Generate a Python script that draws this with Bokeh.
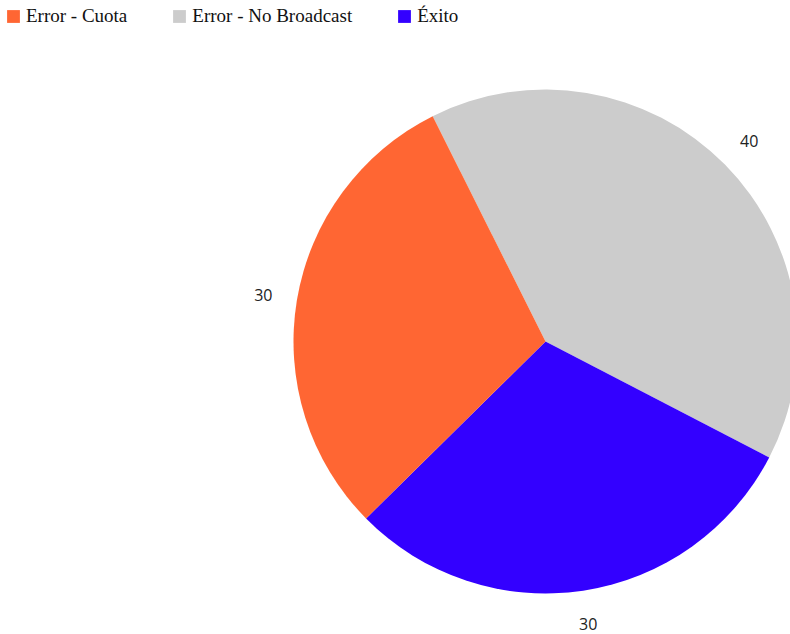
import numpy as np
from bokeh.plotting import figure
from bokeh.models import Range1d, Legend, LegendItem, ColumnDataSource
from bokeh.core.properties import value
from bokeh.embed import file_html
from bokeh.resources import INLINE

categories = ["Error - Cuota", "Error - No Broadcast", "Éxito"]
values = [30, 40, 30]
colors = ["#FF6633", "#CCCCCC", "#3300FF"]

# drawing order (clockwise from start)
order = [1, 2, 0]

W, H = 790, 634
p = figure(width=W, height=H, output_backend="svg", toolbar_location=None,
           x_range=Range1d(0, W), y_range=Range1d(0, H), min_border=0)
p.axis.visible = False
p.grid.visible = False
p.outline_line_color = None
p.background_fill_color = "white"
p.border_fill_color = "white"

cx, cy, r = 545, 293, 252
total = sum(values)
start = np.deg2rad(116.6)
renderers = {}
label_x, label_y, label_t = [], [], []
a = start
for i in order:
    frac = values[i] / total
    sweep = frac * 2 * np.pi
    s = a - sweep
    src = ColumnDataSource(dict(x=[cx], y=[cy], s=[s], e=[a]))
    rr = p.wedge(x="x", y="y", radius=r, start_angle="s", end_angle="e",
                 direction="anticlock", fill_color=colors[i], line_color=None,
                 source=src)
    renderers[i] = rr
    mid = a - sweep / 2
    label_x.append(cx + 286 * np.cos(mid))
    label_y.append(cy + 286 * np.sin(mid))
    label_t.append(str(values[i]))
    a = s

p.text(x=label_x, y=label_y, text=label_t, text_align="center",
       text_baseline="middle", text_font=value("Open Sans"),
       text_font_size="16px", text_color="#222222")

legend = Legend(items=[LegendItem(label=categories[i], renderers=[renderers[i]]) for i in range(3)],
                location="top_left", orientation="horizontal",
                label_text_font="Liberation Serif", label_text_font_size="19px",
                label_text_color="#111111",
                glyph_width=16, glyph_height=16, label_standoff=5, spacing=44,
                padding=6, margin=5, border_line_color=None,
                background_fill_alpha=0)
p.add_layout(legend)

open("out.html", "w").write(file_html(p, INLINE))
